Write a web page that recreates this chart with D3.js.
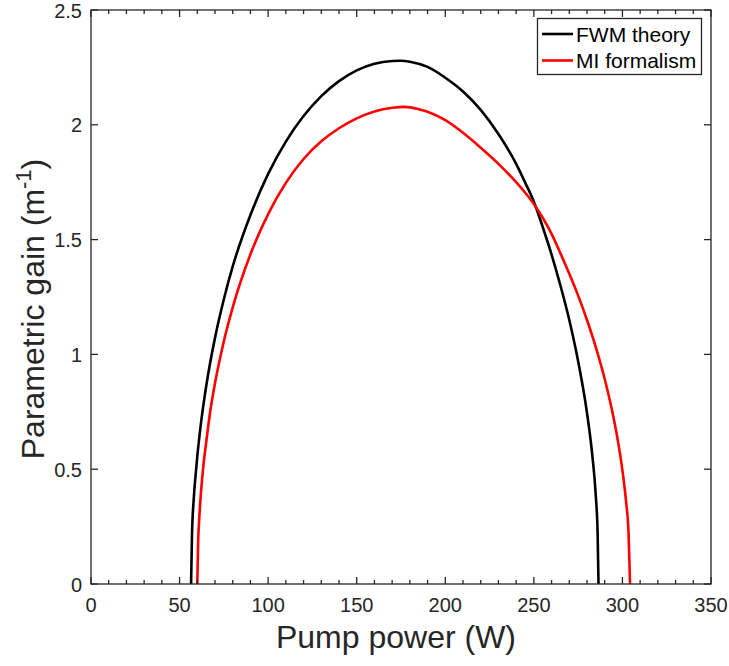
<!DOCTYPE html>
<html>
<head>
<meta charset="utf-8">
<script src="https://cdn.jsdelivr.net/npm/d3@7"></script>
<style>
body { margin: 0; background: #fff; }
svg { font-family: "Liberation Sans", Arial, sans-serif; }
</style>
</head>
<body>
<svg id="svg1" width="729" height="666"></svg>
<script>
// FWM theory curve (pump power W, gain 1/m)
var fwmPower = [56.5, 57, 58, 59, 60, 62, 65, 70, 75, 80, 90, 100, 110, 120, 130, 140, 150, 160, 170, 175, 180, 190, 200, 210, 220, 230, 240, 245, 250, 255, 260, 265, 270, 275, 280, 283, 285, 286, 286.5];
var fwmGain = [0, 0.21, 0.37, 0.47, 0.555, 0.695, 0.86, 1.072, 1.24, 1.383, 1.607, 1.786, 1.927, 2.038, 2.125, 2.19, 2.237, 2.266, 2.278, 2.279, 2.275, 2.252, 2.205, 2.145, 2.065, 1.96, 1.83, 1.75, 1.665, 1.555, 1.435, 1.3, 1.15, 0.97, 0.745, 0.56, 0.38, 0.22, 0];

// MI formalism curve
var miPower = [60, 60.5, 61, 62, 63.5, 65, 67.5, 70, 75, 80, 90, 100, 110, 120, 130, 140, 150, 160, 170, 177, 185, 190, 200, 210, 220, 230, 240, 245, 250, 255, 260, 265, 270, 275, 280, 285, 290, 294, 297, 300, 302, 303.5, 304.3];
var miGain = [0, 0.19, 0.27, 0.39, 0.52, 0.615, 0.762, 0.874, 1.057, 1.205, 1.436, 1.611, 1.747, 1.851, 1.928, 1.985, 2.028, 2.058, 2.074, 2.078, 2.068, 2.057, 2.02, 1.965, 1.9, 1.83, 1.75, 1.705, 1.655, 1.595, 1.525, 1.44, 1.351, 1.256, 1.15, 1.031, 0.893, 0.761, 0.643, 0.495, 0.363, 0.214, 0];

var xTicks = [0, 50, 100, 150, 200, 250, 300, 350];
var xMinor = d3.range(0, 351, 10);
var yTicks = [0, 0.5, 1, 1.5, 2, 2.5];
var yTickLabels = ["0", "0.5", "1", "1.5", "2", "2.5"];
var seriesNames = ["FWM theory", "MI formalism"];
var seriesColors = ["#000000", "#ff0000"];

var pLeft = 91, pRight = 711, pTop = 10, pBottom = 584;
var axisColor = "#262626";

var svg = d3.select('svg');

var x = d3.scaleLinear().domain([0, 350]).range([pLeft, pRight]);
var y = d3.scaleLinear().domain([0, 2.5]).range([pBottom, pTop]);

// curves
var line = d3.line()
    .curve(d3.curveMonotoneX)
    .x(function(d) { return x(d[0]); })
    .y(function(d) { return y(d[1]); });

var fwm = fwmPower.map(function(p, i) { return [p, fwmGain[i]]; });
var mi = miPower.map(function(p, i) { return [p, miGain[i]]; });

[fwm, mi].forEach(function(data, i) {
    svg.append("path")
        .datum(data)
        .attr("d", line)
        .attr("fill", "none")
        .attr("stroke", seriesColors[i])
        .attr("stroke-width", 2.6)
        .attr("stroke-linejoin", "round");
});

// box
svg.append("rect")
    .attr("x", pLeft).attr("y", pTop)
    .attr("width", pRight - pLeft).attr("height", pBottom - pTop)
    .attr("fill", "none").attr("stroke", axisColor).attr("stroke-width", 1.3);

// ticks, inward on all four sides
var g = svg.append("g").attr("stroke", axisColor).attr("stroke-width", 1.3);
xMinor.forEach(function(v) {
    var major = xTicks.indexOf(v) >= 0;
    var len = major ? 7 : 4;
    g.append("line").attr("x1", x(v)).attr("x2", x(v)).attr("y1", pBottom).attr("y2", pBottom - len);
    g.append("line").attr("x1", x(v)).attr("x2", x(v)).attr("y1", pTop).attr("y2", pTop + len);
});
yTicks.forEach(function(v) {
    g.append("line").attr("x1", pLeft).attr("x2", pLeft + 7).attr("y1", y(v)).attr("y2", y(v));
    g.append("line").attr("x1", pRight).attr("x2", pRight - 7).attr("y1", y(v)).attr("y2", y(v));
});

// tick labels
svg.append("g").selectAll("text").data(xTicks).enter().append("text")
    .attr("x", function(d) { return x(d); })
    .attr("y", pBottom + 28)
    .attr("text-anchor", "middle")
    .attr("font-size", 20)
    .attr("fill", axisColor)
    .text(function(d) { return d; });

svg.append("g").selectAll("text").data(yTicks).enter().append("text")
    .attr("x", pLeft - 9)
    .attr("y", function(d) { return y(d) + 7.5; })
    .attr("text-anchor", "end")
    .attr("font-size", 20)
    .attr("fill", axisColor)
    .text(function(d, i) { return yTickLabels[i]; });

// axis labels
svg.append("text")
    .attr("x", 396).attr("y", 648)
    .attr("text-anchor", "middle")
    .attr("font-size", 32)
    .attr("fill", axisColor)
    .text("Pump power (W)");

var yl = svg.append("text")
    .attr("transform", "translate(44,309) rotate(-90)")
    .attr("text-anchor", "middle")
    .attr("font-size", 32)
    .attr("fill", axisColor);
yl.append("tspan").text("Parametric gain (m");
yl.append("tspan").attr("dy", -13).attr("font-size", 22).text("-1");
yl.append("tspan").attr("dy", 13).text(")");

// legend
var lg = svg.append("g");
lg.append("rect")
    .attr("x", 537.5).attr("y", 18.5).attr("width", 164).attr("height", 56)
    .attr("fill", "#fff").attr("stroke", axisColor).attr("stroke-width", 1.3);
seriesNames.forEach(function(name, i) {
    var ly = 34 + i * 26.5;
    lg.append("line")
        .attr("x1", 542).attr("x2", 573).attr("y1", ly).attr("y2", ly)
        .attr("stroke", seriesColors[i]).attr("stroke-width", 2.6);
    lg.append("text")
        .attr("x", 576).attr("y", ly + 7.5)
        .attr("font-size", 21)
        .attr("fill", "#000")
        .text(name);
});
</script>
</body>
</html>
